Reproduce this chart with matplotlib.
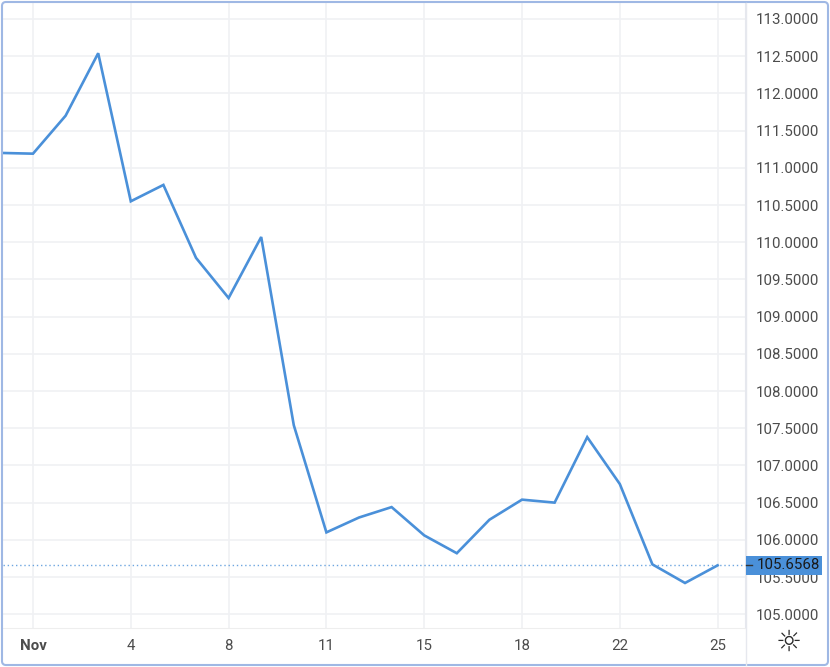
import numpy as np
import matplotlib
matplotlib.use('Agg')
import matplotlib.pyplot as plt
from matplotlib.patches import FancyBboxPatch, Rectangle
from matplotlib.lines import Line2D
import matplotlib.transforms as mtransforms

## closing values, one per trading day (Oct 29 .. Nov 25)
days = np.arange(-1, 22)
values = [111.20, 111.19, 111.70, 112.54, 110.55, 110.77, 109.79, 109.25,
          110.07, 107.54, 106.10, 106.30, 106.44, 106.06, 105.82, 106.27,
          106.54, 106.50, 107.38, 106.75, 105.67, 105.42, 105.6568]
tick_pos = [0, 3, 6, 9, 12, 15, 18, 21]
tick_labels = ['Nov', '4', '8', '11', '15', '18', '22', '25']
y_ticks = np.arange(105.0, 113.01, 0.5)
last = values[-1]

line_col = '#4a90d9'
grid_col = '#f0f1f4'
txt_col = '#4c4c4c'
fams = ['Roboto', 'DejaVu Sans']

W, H = 830, 667
fig = plt.figure(figsize=[W/100, H/100], dpi=100)
fig.patch.set_facecolor('white')

ax = fig.add_axes([3/W, (H-628)/H, (745-3)/W, (628-3)/H])
ax.plot(days, values, color=line_col, lw=1.9, solid_joinstyle='miter', zorder=3)
ax.axhline(last, color=line_col, lw=1.0, ls=(0, (1, 2)), alpha=0.8, zorder=2)

ax.set_xlim(-0.92, 21.84)
ax.set_ylim(104.815, 113.215)
ax.set_xticks(tick_pos)
ax.set_xticklabels(tick_labels)
ax.set_yticks(y_ticks)
ax.set_yticklabels(['%.4f' % v for v in y_ticks])
ax.yaxis.tick_right()
ax.tick_params(axis='y', length=0, pad=8, labelsize=10.8, labelcolor=txt_col)
ax.tick_params(axis='x', length=0, pad=8, labelsize=10.8, labelcolor=txt_col)
for lab in ax.get_yticklabels() + ax.get_xticklabels():
    lab.set_family(fams)
ax.get_xticklabels()[0].set_fontweight('bold')
ax.grid(True, color=grid_col, lw=1.2)
ax.set_axisbelow(True)
for s in ['top', 'left']:
    ax.spines[s].set_visible(False)
ax.spines['right'].set_color('#e6e8ee')
ax.spines['bottom'].set_color('#eeeeee')

## right edge separator down to the bottom
fig.add_artist(Line2D([746/W, 746/W], [2/H, (H-3)/H], color='#e6e8ee', lw=1))

## last value badge
tr = mtransforms.blended_transform_factory(fig.transFigure, ax.transData)
bh = 19/74.4
fig.add_artist(Rectangle((746/W, last - bh/2), 76/W, bh, transform=tr,
                         facecolor=line_col, edgecolor='none', zorder=5))
fig.add_artist(Line2D([746/W, 752/W], [last, last], transform=tr, color='#333333', lw=1, zorder=6))
t = fig.text(757/W, last, '%.4f' % last, transform=tr, color='#1a1a1a', fontsize=10.8,
             ha='left', va='center', family=fams, zorder=7)

## settings icon
fig.text(789/W, 1-643/H, '\u263c', fontsize=21, ha='center', va='center', color='#2b2b2b')

## outer frame
fig.add_artist(FancyBboxPatch((2, 2), W-4, H-4, boxstyle='round,pad=0,rounding_size=4',
                              transform=None, facecolor='none', edgecolor='#9fb8e4', lw=1.5))

plt.savefig('out.png', dpi=100)
